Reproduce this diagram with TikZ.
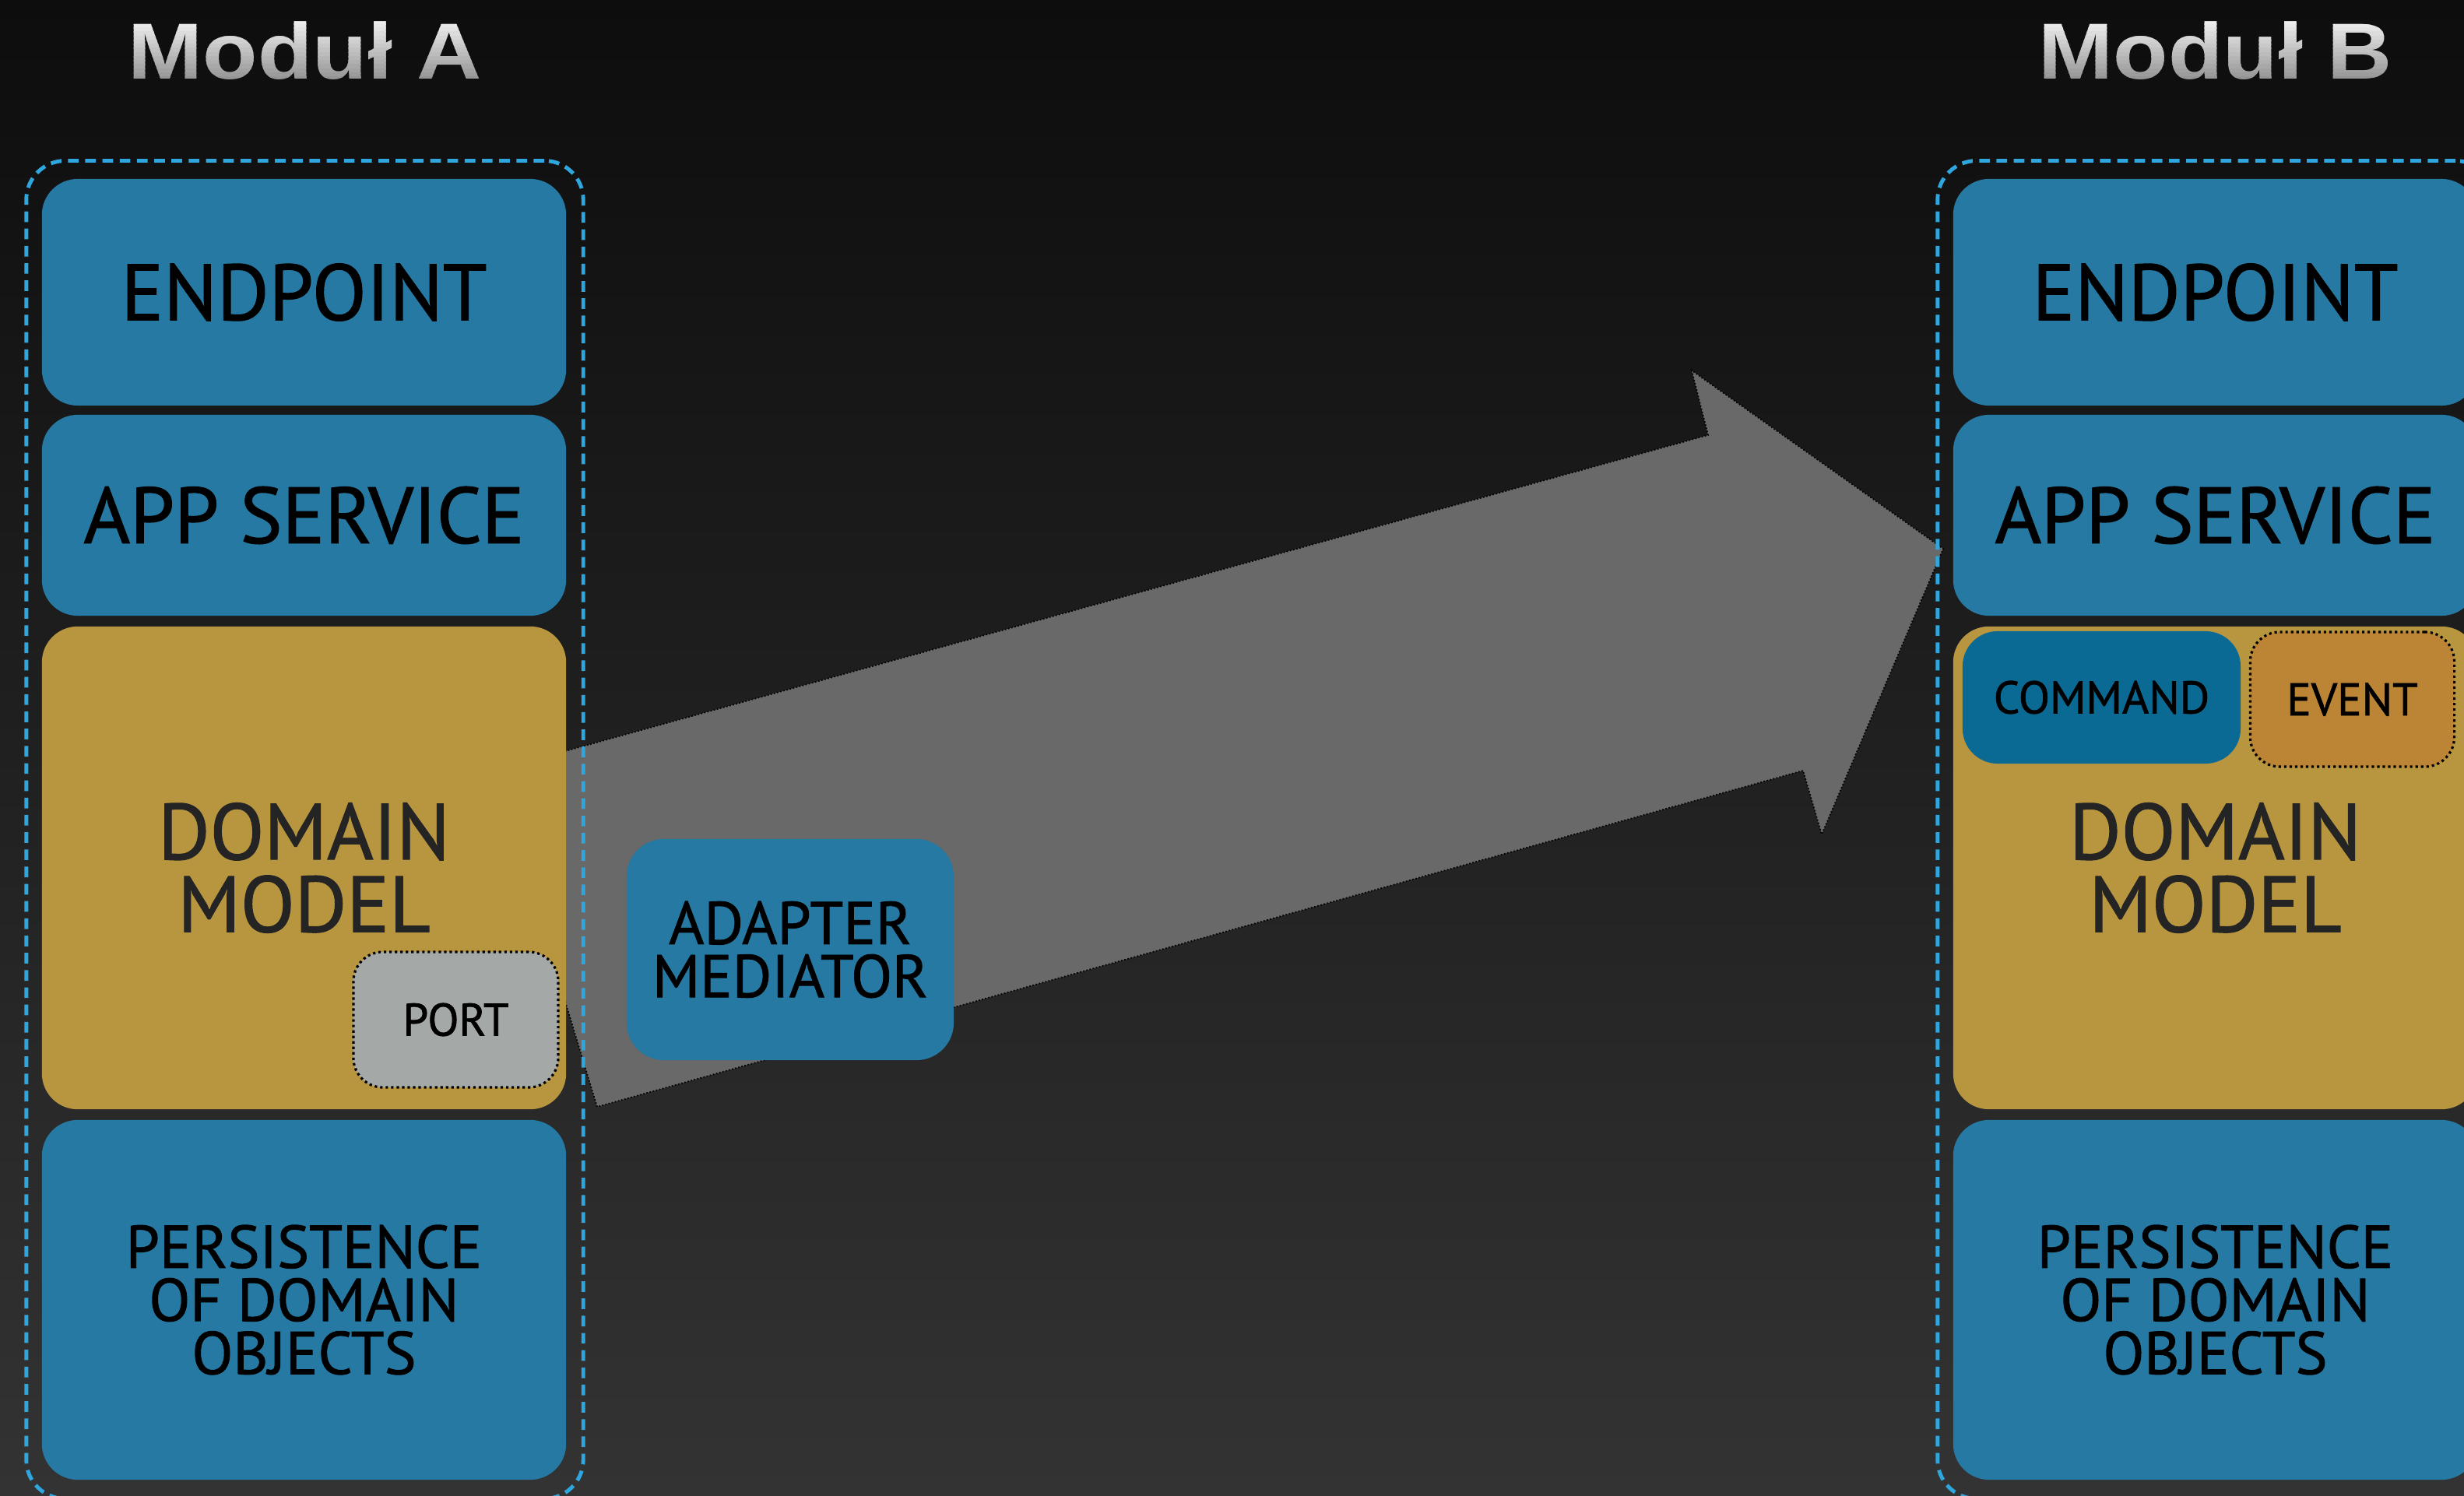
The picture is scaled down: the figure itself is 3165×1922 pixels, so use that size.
\documentclass[tikz,border=0pt]{standalone}
\usepackage{fontspec}
\setmainfont{PT Sans}
\newfontfamily\layerfont[FakeBold=1.2]{PT Sans}
\newfontfamily\headfont[FakeStretch=1.13]{Liberation Sans}

\definecolor{bgtop}{HTML}{0D0D0D}
\definecolor{bgbottom}{HTML}{333333}
\definecolor{boxblue}{HTML}{2579A3}
\definecolor{domaingold}{HTML}{B8953F}
\definecolor{cmdblue}{HTML}{0B6A94}
\definecolor{eventorange}{HTML}{BB8535}
\definecolor{portgray}{HTML}{A4A8A6}
\definecolor{arrowgray}{HTML}{686968}
\definecolor{dashblue}{HTML}{2FA6DE}
\definecolor{domaintext}{HTML}{242424}
\definecolor{headtop}{HTML}{F6F6F6}
\definecolor{headbottom}{HTML}{959595}

\begin{document}
\begin{tikzpicture}[x=0.01cm, y=-0.01cm,
  layer/.style={rounded corners=0.46cm, inner sep=0pt, align=center, draw=none},
  bluebox/.style={layer, fill=boxblue, text=black,
    font=\layerfont\fontsize{29}{26}\selectfont},
  smallblue/.style={bluebox, font=\layerfont\fontsize{22}{19.4}\selectfont},
  domainbox/.style={layer, fill=domaingold, text=domaintext,
    font=\layerfont\fontsize{29}{26.5}\selectfont},
  innerlabel/.style={inner sep=0pt, align=center, text=black,
    font=\layerfont\fontsize{16.7}{18}\selectfont},
  dottedbox/.style={innerlabel, rounded corners=0.38cm, draw=black,
    line width=0.9pt, dash pattern=on 0.9pt off 1.1pt},
  frame/.style={draw=dashblue, line width=1.4pt, dash pattern=on 3.9pt off 2.4pt,
    rounded corners=0.5cm, inner sep=0pt},
  bigarrow/.style={fill=arrowgray, draw=black, line width=0.5pt,
    dash pattern=on 0.5pt off 0.7pt, line join=miter},
  heading/.style={inner sep=0pt, anchor=base,
    font=\headfont\bfseries\fontsize{29}{30}\selectfont},
]
\useasboundingbox (0,0) rectangle (3165,1922);
\clip (0,0) rectangle (3165,1922);
\shade[top color=bgtop, bottom color=bgbottom] (0,0) rectangle (3165,1922);

% the wide arrow from module A to module B
\coordinate (tailTop)  at (636,990);
\coordinate (notchTop) at (2194,559);
\coordinate (barbTop)  at (2173,476);
\coordinate (tip)      at (2496,705);
\coordinate (barbBot)  at (2340,1072);
\coordinate (notchBot) at (2316,990);
\coordinate (tailBot)  at (767,1422);
\draw[bigarrow] (tailTop) -- (notchTop) -- (barbTop) -- (tip) -- (barbBot)
  -- (notchBot) -- (tailBot) -- cycle;

% module frames
\node[frame, minimum width=7.15cm, minimum height=17.18cm] (frameA) at (391.5,1066) {};
\node[frame, minimum width=7.15cm, minimum height=17.18cm] (frameB) at (2846.5,1066) {};

% module A layers
\node[bluebox, minimum width=6.73cm, minimum height=2.91cm] (endA) at (390.5,375.5) {ENDPOINT};
\node[bluebox, minimum width=6.73cm, minimum height=2.58cm] (appA) at (390.5,662) {APP SERVICE};
\node[domainbox, minimum width=6.73cm, minimum height=6.20cm] (domA) at (390.5,1115) {DOMAIN\\MODEL};
\node[smallblue, minimum width=6.73cm, minimum height=4.62cm] (perA) at (390.5,1670) {PERSISTENCE\\OF DOMAIN\\OBJECTS};
\node[dottedbox, fill=portgray, minimum width=2.63cm, minimum height=1.74cm] (port) at (585.5,1310) {PORT};

% adapter between the modules
\node[smallblue, rounded corners=0.48cm, minimum width=4.2cm, minimum height=2.84cm] (adapter) at (1015,1220) {ADAPTER\\MEDIATOR};

% module B layers
\node[bluebox, minimum width=6.73cm, minimum height=2.91cm] (endB) at (2845.5,375.5) {ENDPOINT};
\node[bluebox, minimum width=6.73cm, minimum height=2.58cm] (appB) at (2845.5,662) {APP SERVICE};
\node[domainbox, minimum width=6.73cm, minimum height=6.20cm] (domB) at (2845.5,1115) {DOMAIN\\MODEL};
\node[smallblue, minimum width=6.73cm, minimum height=4.62cm] (perB) at (2845.5,1670) {PERSISTENCE\\OF DOMAIN\\OBJECTS};
\node[innerlabel, fill=cmdblue, rounded corners=0.45cm, minimum width=3.57cm, minimum height=1.70cm] (command) at (2699.5,896) {COMMAND};
\node[dottedbox, fill=eventorange, minimum width=2.62cm, minimum height=1.73cm] (event) at (3021.5,898.5) {EVENT};

% headings: the text is set band by band, light at the top and grey at the baseline
\coordinate (headA) at (392,102);
\coordinate (headB) at (2846,102);
\foreach \i in {0,...,15} {
  \pgfmathsetmacro\bandtop{\i==0 ? 0 : 20+\i*5.25}
  \pgfmathsetmacro\bandbot{\i==15 ? 140 : 20+(\i+1)*5.25+0.6}
  \pgfmathsetmacro\mix{100-\i*100/15}
  \begin{scope}
    \clip (0,\bandtop) rectangle (3165,\bandbot);
    \node[heading, text=headtop!\mix!headbottom] (headA-\i) at (headA) {Moduł A};
    \node[heading, text=headtop!\mix!headbottom] (headB-\i) at (headB) {Moduł B};
  \end{scope}
}
\end{tikzpicture}
\end{document}
